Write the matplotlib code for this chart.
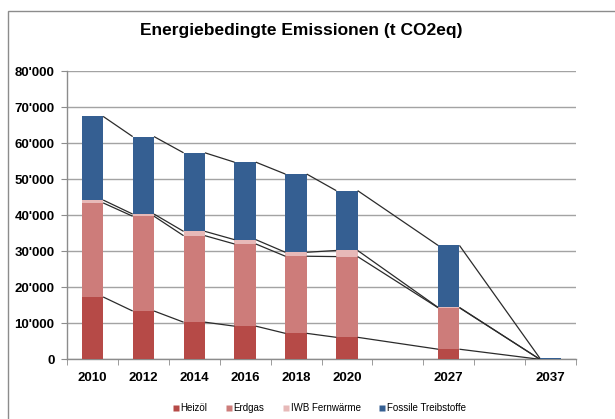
import matplotlib
matplotlib.use("Agg")
import matplotlib.pyplot as plt
import numpy as np
from matplotlib.patches import Rectangle
from matplotlib.lines import Line2D
from matplotlib.ticker import FuncFormatter, MultipleLocator

plt.rcParams['font.family'] = ['Liberation Sans', 'DejaVu Sans']

categories = ["2010", "2012", "2014", "2016", "2018", "2020", "", "2027", "", "2037"]
heizoel = [17300, 13400, 10300, 9200, 7200, 6100, None, 2800, None, 0]
erdgas = [26100, 26300, 24000, 22800, 21400, 22400, None, 11500, None, 0]
iwb = [800, 600, 1200, 1200, 1100, 1700, None, 100, None, 0]
fossil = [23200, 21500, 21800, 21500, 21700, 16600, None, 17200, None, 300]
series_names = ["Heizöl", "Erdgas", "IWB Fernwärme", "Fossile Treibstoffe"]
colors = ["#B64A47", "#CD7C7A", "#E7B9B8", "#355F92"]

W, H = 615, 419
fig = plt.figure(figsize=(W / 100, H / 100), dpi=100)

# chart area border
fig.patches.append(Rectangle((8 / W, -0.1), 1.2, 1 - 11 / H + 0.1, transform=fig.transFigure,
                             fill=False, edgecolor="#8C8C8C", linewidth=1.0, zorder=0))

ax = fig.add_axes([67 / W, (H - 359.3) / H, (576 - 67) / W, (359.3 - 71) / H])

width = 0.42
idx = [i for i, c in enumerate(categories) if c != ""]
data = [heizoel, erdgas, iwb, fossil]
xs = np.array(idx, dtype=float)
bottom = np.zeros(len(idx))
levels = []
for vals, col in zip(data, colors):
    v = np.array([vals[i] for i in idx], dtype=float)
    ax.bar(xs, v, width=width, bottom=bottom, color=col, edgecolor="none", zorder=3)
    bottom = bottom + v
    levels.append(bottom.copy())

# series lines
for lvl in levels:
    for a in range(len(idx) - 1):
        ax.plot([xs[a] + width / 2, xs[a + 1] - width / 2], [lvl[a], lvl[a + 1]],
                color="#2B2B2B", linewidth=0.9, zorder=4, solid_capstyle="butt")

ax.set_xlim(-0.5, len(categories) - 0.5)
ax.set_ylim(0, 80000)
ax.yaxis.set_major_locator(MultipleLocator(10000))
ax.yaxis.set_major_formatter(FuncFormatter(lambda v, p: f"{int(v):,}".replace(",", "'")))
ax.grid(axis="y", color="#A3A3A3", linewidth=1.0, zorder=1)
ax.set_axisbelow(True)

ax.set_xticks(range(len(categories)))
ax.set_xticklabels(categories, fontweight="bold", fontsize=9.5)
ax.set_xticks(np.arange(-0.5, len(categories)), minor=True)
ax.tick_params(axis="x", which="major", length=0, pad=9)
ax.tick_params(axis="x", which="minor", length=4, color="#8C8C8C", direction="out")
ax.tick_params(axis="y", length=4, color="#8C8C8C", direction="out", pad=5)
for lab in ax.get_yticklabels():
    lab.set_fontweight("bold")
    lab.set_fontsize(9.5)

for s in ["top", "right"]:
    ax.spines[s].set_visible(False)
for s in ["left", "bottom"]:
    ax.spines[s].set_color("#8C8C8C")
    ax.spines[s].set_linewidth(1.0)

fig.text(301 / W, 1 - 31 / H, "Energiebedingte Emissionen (t CO2eq)", ha="center", va="center",
         fontsize=12.5, fontweight="bold")

handles = [Line2D([], [], marker="s", linestyle="none", markersize=4.5, markerfacecolor=c,
                  markeredgecolor="none") for c in colors]
fig.legend(handles, series_names, loc="center", bbox_to_anchor=(319 / W, 1 - 408 / H), ncol=4,
           frameon=False, fontsize=7, handletextpad=0.1, columnspacing=1.8, handlelength=0.8)

fig.savefig("out.png", dpi=100)
